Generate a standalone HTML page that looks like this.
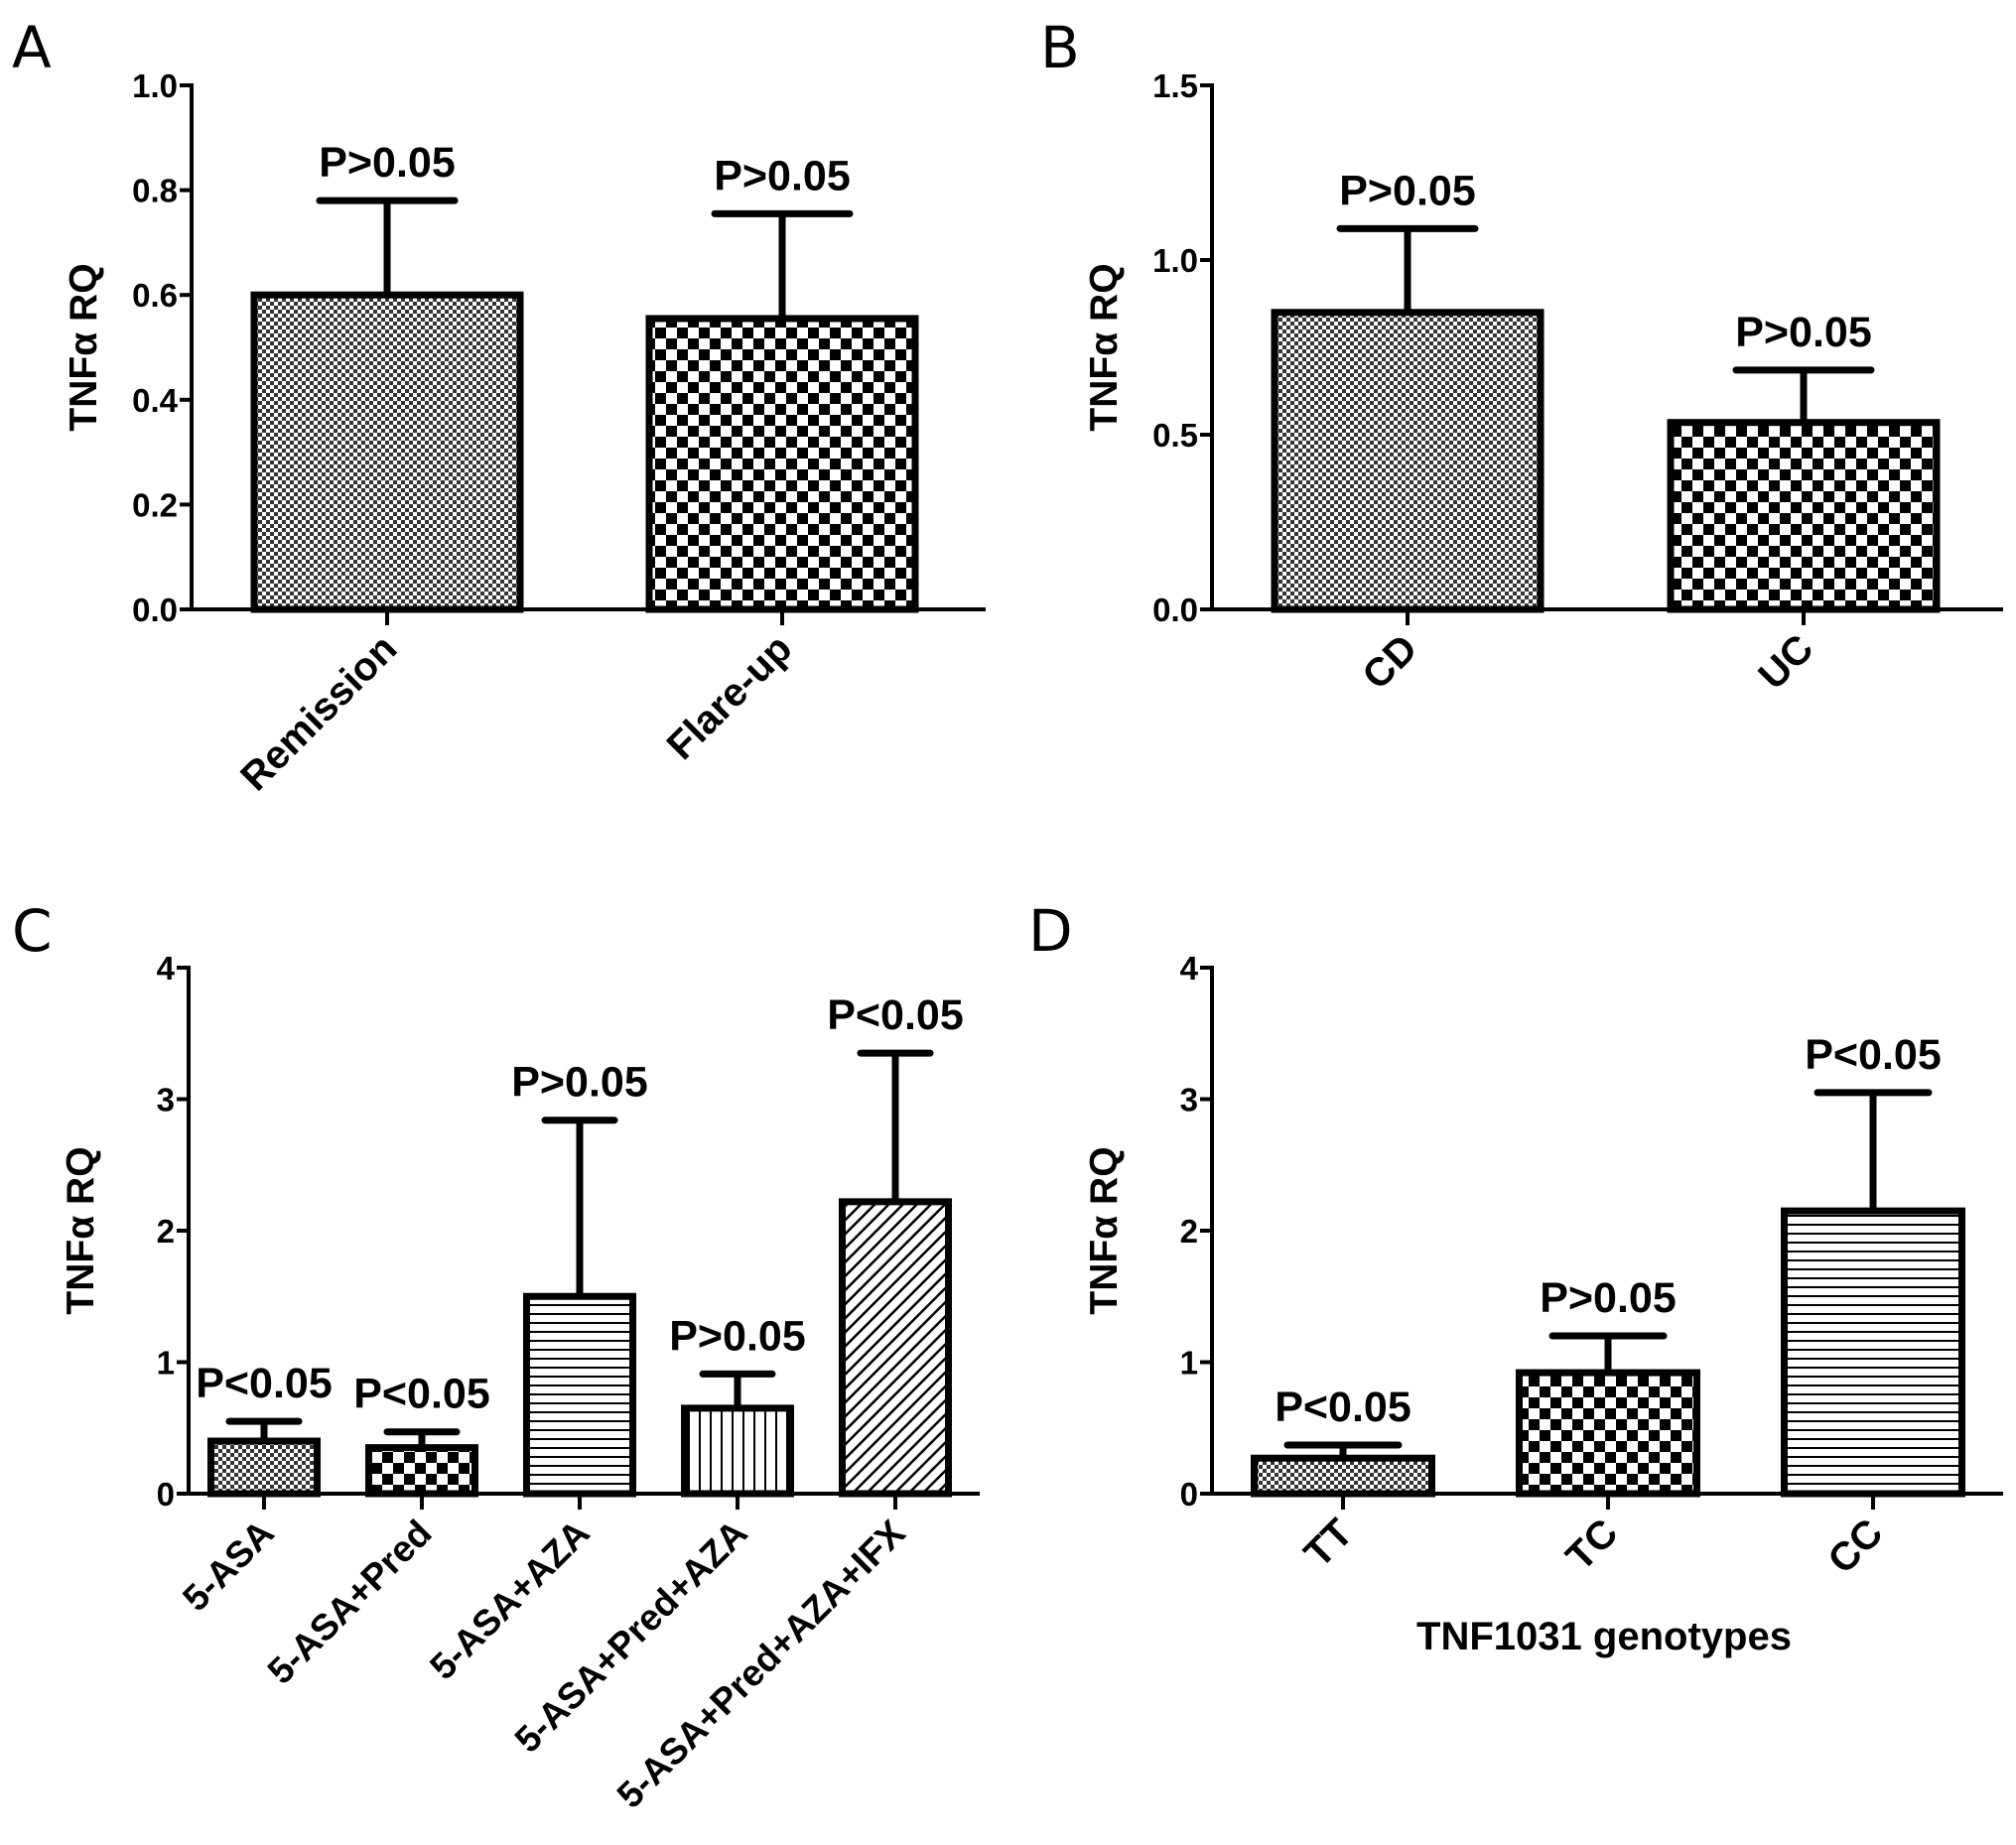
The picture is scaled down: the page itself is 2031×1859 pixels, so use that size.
<!DOCTYPE html>
<html><head><meta charset="utf-8">
<style>
html,body{margin:0;padding:0;background:#fff;}
svg{display:block;font-family:"Liberation Sans",sans-serif;}
</style></head>
<body>
<svg id="fig" width="2031" height="1859" viewBox="0 0 2031 1859" xmlns="http://www.w3.org/2000/svg">
<defs>
<pattern id="pFine" width="8" height="8" patternUnits="userSpaceOnUse"><rect width="8" height="8" fill="#fff"/><rect width="4" height="4" fill="#333"/><rect x="4" y="4" width="4" height="4" fill="#333"/></pattern>
<pattern id="pCoarse" width="22" height="22" patternUnits="userSpaceOnUse"><rect width="22" height="22" fill="#fff"/><rect width="11" height="11" fill="#000"/><rect x="11" y="11" width="11" height="11" fill="#000"/></pattern>
<pattern id="pHoriz" width="10" height="9" patternUnits="userSpaceOnUse"><rect width="10" height="9" fill="#fff"/><rect y="0" width="10" height="2" fill="#000"/></pattern>
<pattern id="pVert" width="11" height="10" patternUnits="userSpaceOnUse"><rect width="11" height="10" fill="#fff"/><rect x="0" width="2" height="10" fill="#000"/></pattern>
<pattern id="pDiag" width="10" height="10" patternUnits="userSpaceOnUse" patternTransform="rotate(45)"><rect width="10" height="10" fill="#fff"/><rect width="2.5" height="10" fill="#000"/></pattern>
</defs>
</svg>
<script>
// Panel A
const catsA = ["Remission","Flare-up"];
const valsA = [0.6, 0.555];
const errA = [0.78, 0.755];
const pA = ["P>0.05","P>0.05"];
const ticksA = ["0.0","0.2","0.4","0.6","0.8","1.0"];
// Panel B
const catsB = ["CD","UC"];
const valsB = [0.85, 0.535];
const errB = [1.09, 0.685];
const pB = ["P>0.05","P>0.05"];
const ticksB = ["0.0","0.5","1.0","1.5"];
// Panel C
const catsC = ["5-ASA","5-ASA+Pred","5-ASA+AZA","5-ASA+Pred+AZA","5-ASA+Pred+AZA+IFX"];
const valsC = [0.4, 0.35, 1.5, 0.65, 2.22];
const errC = [0.55, 0.47, 2.84, 0.91, 3.35];
const pC = ["P<0.05","P<0.05","P>0.05","P>0.05","P<0.05"];
const ticksC = ["0","1","2","3","4"];
// Panel D
const catsD = ["TT","TC","CC"];
const valsD = [0.27, 0.92, 2.15];
const errD = [0.37, 1.2, 3.05];
const pD = ["P<0.05","P>0.05","P<0.05"];
const ticksD = ["0","1","2","3","4"];

const svg = document.getElementById('fig');
const NS = "http://www.w3.org/2000/svg";
function mk(tag, attrs, parent){const e=document.createElementNS(NS,tag);for(const k in attrs)e.setAttribute(k,attrs[k]);(parent||svg).appendChild(e);return e;}

function panel(cfg){
  const g = mk('g',{});
  
  
  const ymax = parseFloat(cfg.ticks[cfg.ticks.length-1]);
  const Y = v => cfg.y0 - (v/ymax)*(cfg.y0-cfg.ytop);
  const X = i => cfg.x0 + cfg.first + i*cfg.step;
  const L = mk('text',{x:cfg.lx,y:cfg.ly,'font-size':58,'font-family':'DejaVu Sans, sans-serif',fill:'#000'},g);
  L.textContent = cfg.id.toUpperCase();
  
  
  cfg.vals.forEach((v,i)=>{
    const cx = X(i), hw = cfg.bw/2;
    const eb = mk('g',{},g);
    
    
    mk('line',{x1:cx,x2:cx,y1:Y(v),y2:Y(cfg.err[i]),stroke:'#000','stroke-width':7},eb);
    mk('line',{x1:cx-cfg.cap,x2:cx+cfg.cap,y1:Y(cfg.err[i]),y2:Y(cfg.err[i]),stroke:'#000','stroke-width':7,'stroke-linecap':'round'},eb);
    const r = mk('rect',{x:cx-hw,y:Y(v),width:cfg.bw,height:Y(0)-Y(v),fill:'url(#'+cfg.pats[i]+')',stroke:'#000','stroke-width':7},g);
    
    
    const p = mk('text',{x:cx,y:Y(cfg.err[i])-24,'text-anchor':'middle','font-size':43,'font-weight':'bold',fill:'#000'},g);
    p.textContent = cfg.p[i];
    
    
    mk('line',{x1:cx,x2:cx,y1:cfg.y0,y2:cfg.y0+16,stroke:'#000','stroke-width':4},g);
    const t = mk('text',{x:0,y:0,'text-anchor':'end','font-size':cfg.cfs,'font-weight':'bold',fill:'#000',transform:`translate(${cx+12},${cfg.y0+42}) rotate(-45)`},g);
    t.textContent = cfg.cats[i];
    
    
  });
  const ax = mk('line',{x1:cfg.x0,x2:cfg.x0,y1:cfg.ytop-2,y2:cfg.y0+2,stroke:'#000','stroke-width':4},g);
  
  
  const xa = mk('line',{x1:cfg.x0-12,x2:cfg.xend,y1:cfg.y0,y2:cfg.y0,stroke:'#000','stroke-width':4},g);
  
  
  cfg.ticks.forEach(tk=>{
    const y = Y(parseFloat(tk));
    mk('line',{x1:cfg.x0-12,x2:cfg.x0,y1:y,y2:y,stroke:'#000','stroke-width':4},g);
    const t = mk('text',{x:cfg.x0-14,y:y+12,'text-anchor':'end','font-size':33,'font-weight':'bold',fill:'#000'},g);
    t.textContent = tk;
    
    
  });
  const yt = mk('text',{x:0,y:0,'text-anchor':'middle','font-size':39,'font-weight':'bold',fill:'#000',transform:`translate(${cfg.x0-96},${(cfg.y0+cfg.ytop)/2}) rotate(-90)`},g);
  yt.textContent = 'TNFα RQ';
  
  
  if(cfg.xtitle){
    const xt = mk('text',{x:cfg.xtx,y:cfg.xty,'text-anchor':'middle','font-size':40,'font-weight':'bold',fill:'#000'},g);
    xt.textContent = cfg.xtitle;
    
    
  }
}
panel({id:'a',cats:catsA,vals:valsA,err:errA,p:pA,ticks:ticksA,x0:193,ytop:86,y0:614,xend:993,first:197,step:398,bw:268,cap:68,pats:['pFine','pCoarse'],lx:12,ly:68,cfs:40});
panel({id:'b',cats:catsB,vals:valsB,err:errB,p:pB,ticks:ticksB,x0:1221,ytop:86,y0:614,xend:2018,first:197,step:399,bw:268,cap:68,pats:['pFine','pCoarse'],lx:1048,ly:68,cfs:40});
panel({id:'c',cats:catsC,vals:valsC,err:errC,p:pC,ticks:ticksC,x0:190,ytop:975,y0:1505,xend:987,first:76,step:159,bw:107,cap:35,pats:['pFine','pCoarse','pHoriz','pVert','pDiag'],lx:12,ly:958,cfs:37});
panel({id:'d',cats:catsD,vals:valsD,err:errD,p:pD,ticks:ticksD,x0:1221,ytop:975,y0:1505,xend:2018,first:132,step:267,bw:179,cap:56,pats:['pFine','pCoarse','pHoriz'],lx:1036,ly:958,cfs:40,xtitle:'TNF1031 genotypes',xtx:1616,xty:1662});
</script>
</body></html>
